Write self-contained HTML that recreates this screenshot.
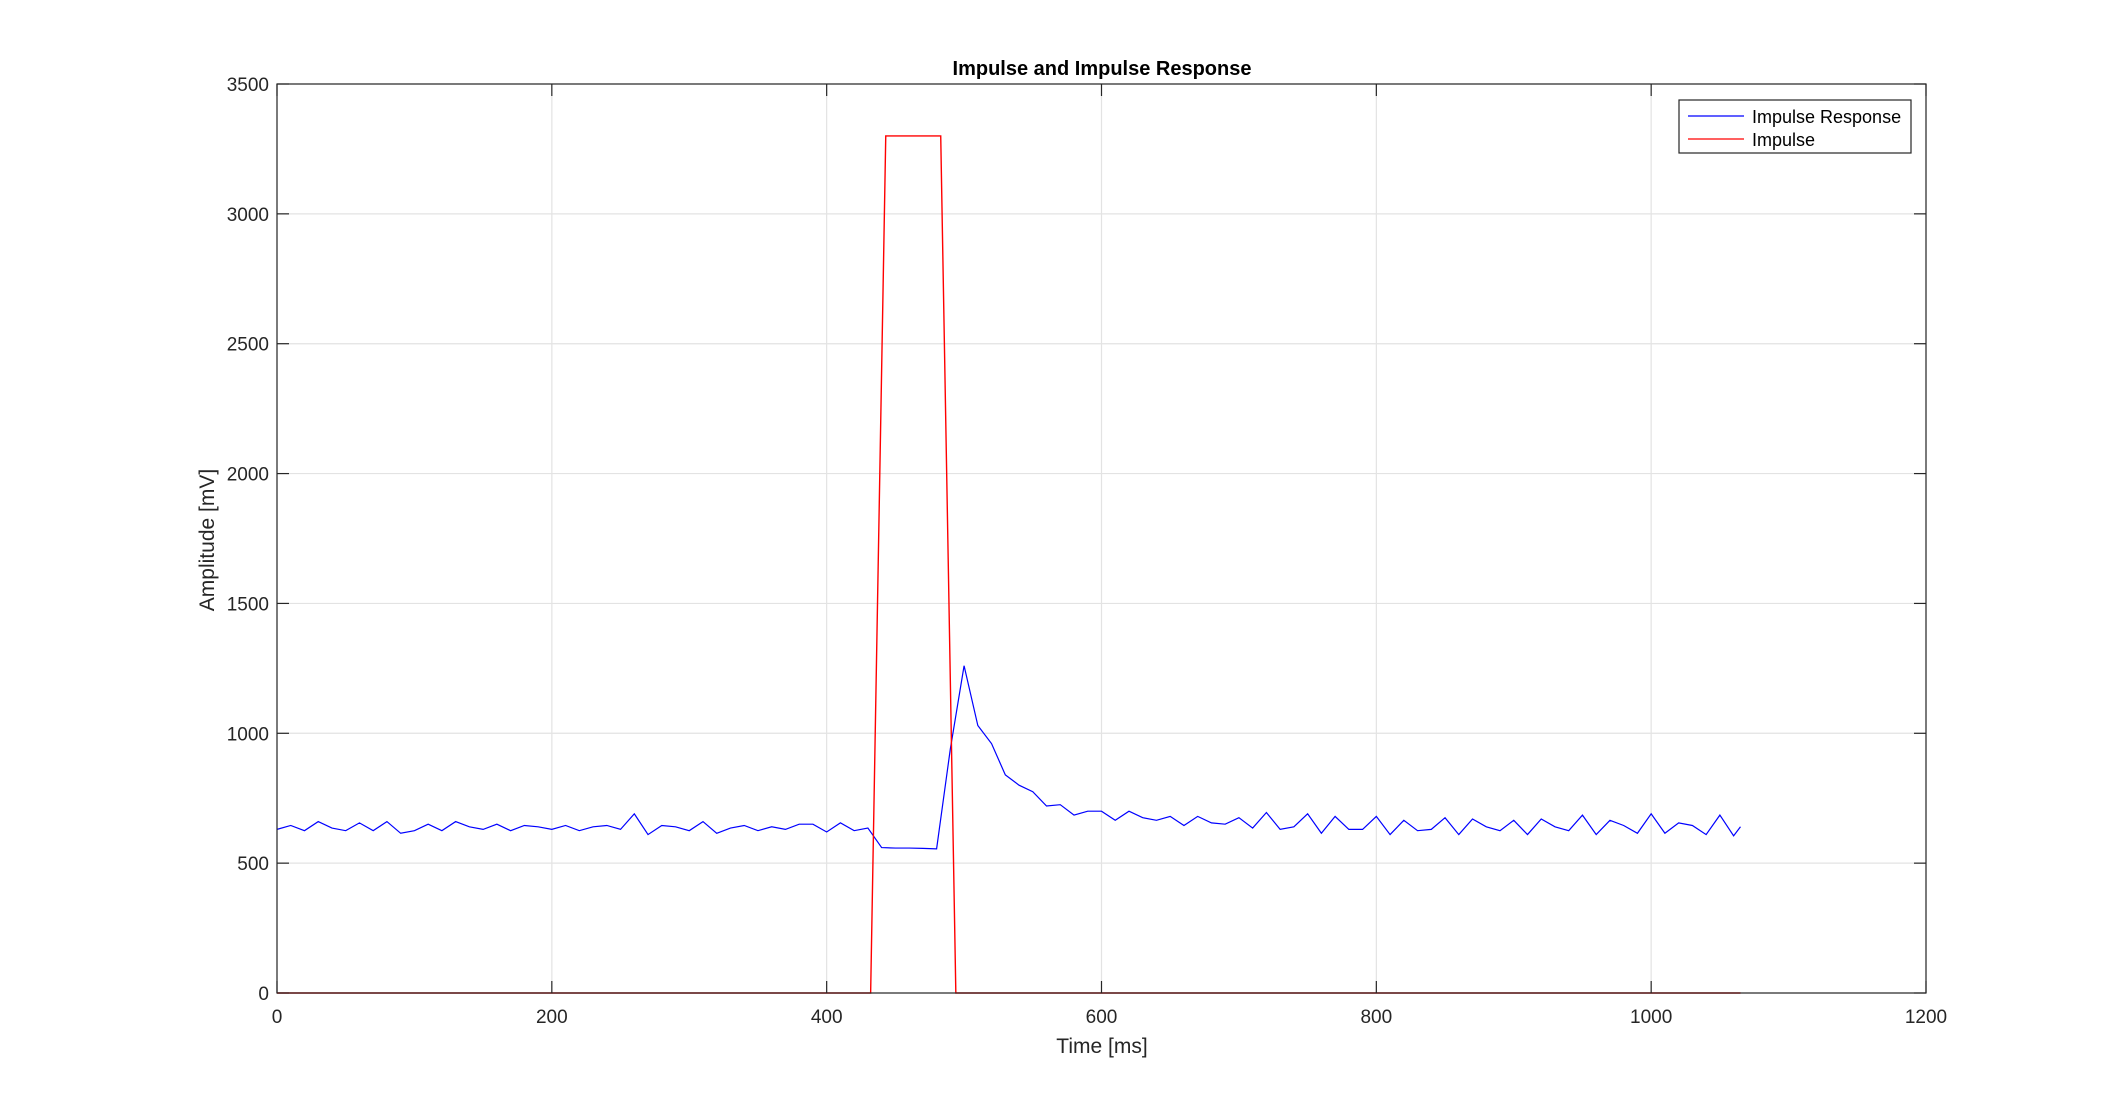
<!DOCTYPE html>
<html><head><meta charset="utf-8"><style>
html,body{margin:0;padding:0;background:#fff;}
svg{display:block;font-family:"Liberation Sans",Arial,sans-serif;}
</style></head><body>
<svg id="chart" width="2128" height="1116" viewBox="0 0 2128 1116">
<rect width="2128" height="1116" fill="#fff"/>
<g id="grid"></g>
<g id="series"></g>
<g id="axes"></g>
<text x="1102" y="75" text-anchor="middle" font-size="20" font-weight="bold">Impulse and Impulse Response</text>
<text x="1102" y="1053" text-anchor="middle" font-size="21" fill="#262626">Time [ms]</text>
<text x="214" y="540" text-anchor="middle" font-size="21" fill="#262626" transform="rotate(-90 214 540)">Amplitude [mV]</text>
<g>
<rect x="1679" y="100" width="232" height="53" fill="#fff" stroke="#262626" stroke-width="1.2"/>
<line x1="1688" y1="116" x2="1744" y2="116" stroke="#0000ff" stroke-width="1.2"/>
<text x="1752" y="123" font-size="18" fill="#000">Impulse Response</text>
<line x1="1688" y1="139" x2="1744" y2="139" stroke="#ff0000" stroke-width="1.2"/>
<text x="1752" y="146" font-size="18" fill="#000">Impulse</text>
</g>
</svg>
<script>
const xTicks=[0,200,400,600,800,1000,1200];
const yTicks=[0,500,1000,1500,2000,2500,3000,3500];
const respT=[0,10,20,30,40,50,60,70,80,90,100,110,120,130,140,150,160,170,180,190,200,210,220,230,240,250,260,270,280,290,300,310,320,330,340,350,360,370,380,390,400,410,420,430,440,450,460,470,480,490,500,510,520,530,540,550,560,570,580,590,600,610,620,630,640,650,660,670,680,690,700,710,720,730,740,750,760,770,780,790,800,810,820,830,840,850,860,870,880,890,900,910,920,930,940,950,960,970,980,990,1000,1010,1020,1030,1040,1050,1060,1065];
const respV=[630,645,625,660,635,625,655,625,660,615,625,650,625,660,640,630,650,625,645,640,630,645,625,640,645,630,690,610,645,640,625,660,615,635,645,625,640,630,650,650,620,655,625,635,560,558,558,557,555,940,1260,1030,960,840,800,775,720,725,685,700,700,665,700,675,665,680,645,680,655,650,675,635,695,630,640,690,615,680,630,630,680,610,665,625,630,675,610,670,640,625,665,610,670,640,625,685,610,665,645,615,690,615,655,645,610,685,605,640];
const impT=[0,432,443,483,494,1065];
const impV=[0,0,3300,3300,0,0];
const L=277,R=1926,T=84,B=993;
const sx=v=>L+(v-0)/(1200-0)*(R-L);
const sy=v=>B-(v-0)/(3500-0)*(B-T);
const NS='http://www.w3.org/2000/svg';
function mk(tag,attrs,parent){const e=document.createElementNS(NS,tag);for(const k in attrs)e.setAttribute(k,attrs[k]);parent.appendChild(e);return e;}
const grid=document.getElementById('grid'),axes=document.getElementById('axes'),series=document.getElementById('series');
xTicks.forEach(t=>{
 const g=mk('line',{x1:sx(t),x2:sx(t),y1:T,y2:B,stroke:'#e3e3e3','stroke-width':1.2},grid);
 
 
 const k1=mk('line',{x1:sx(t),x2:sx(t),y1:B,y2:B-12,stroke:'#262626','stroke-width':1.2},axes);
 
 
 const k2=mk('line',{x1:sx(t),x2:sx(t),y1:T,y2:T+12,stroke:'#262626','stroke-width':1.2},axes);
 
 
 const lb=mk('text',{x:sx(t),y:B+30,'text-anchor':'middle','font-size':19,fill:'#262626'},axes);
 lb.textContent=t;
 
 
});
yTicks.forEach(t=>{
 const g=mk('line',{x1:L,x2:R,y1:sy(t),y2:sy(t),stroke:'#e3e3e3','stroke-width':1.2},grid);
 
 
 const k1=mk('line',{x1:L,x2:L+12,y1:sy(t),y2:sy(t),stroke:'#262626','stroke-width':1.2},axes);
 
 
 const k2=mk('line',{x1:R,x2:R-12,y1:sy(t),y2:sy(t),stroke:'#262626','stroke-width':1.2},axes);
 
 
 const lb=mk('text',{x:L-8,y:sy(t)+7,'text-anchor':'end','font-size':19,fill:'#262626'},axes);
 lb.textContent=t;
 
 
});
const box=mk('rect',{x:L,y:T,width:R-L,height:B-T,fill:'none',stroke:'#262626','stroke-width':1.2},axes);


const p1=mk('polyline',{points:respT.map((t,i)=>sx(t)+','+sy(respV[i])).join(' '),fill:'none',stroke:'#0000ff','stroke-width':1.2},series);


const p2=mk('polyline',{points:impT.map((t,i)=>sx(t)+','+sy(impV[i])).join(' '),fill:'none',stroke:'#ff0000','stroke-width':1.4},series);


</script>
</body></html>
